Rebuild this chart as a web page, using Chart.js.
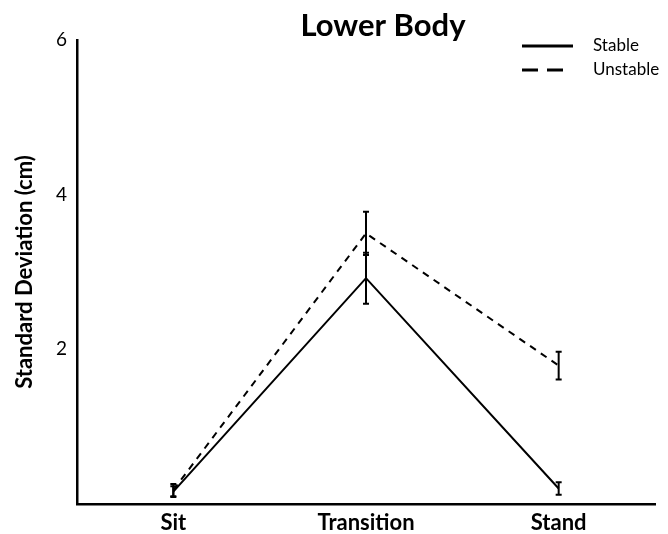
<!DOCTYPE html>
<html>
<head>
<meta charset="utf-8">
<script src="https://cdn.jsdelivr.net/npm/chart.js@4/dist/chart.umd.min.js"></script>
<style>
  html, body { margin: 0; padding: 0; background: #fff; }
  #wrap { width: 668px; height: 534px; }
</style>
</head>
<body>
<div id="wrap"><canvas id="lineChart"></canvas></div>
<script>
// data
const categories = ['Sit', 'Transition', 'Stand'];
const stableMean = [0.16, 2.92, 0.2];
const stableErr = [0.07, 0.33, 0.08];
const unstableMean = [0.18, 3.5, 1.79];
const unstableErr = [0.08, 0.28, 0.18];
const yTicks = [2, 4, 6];

const FONT = 'Lato, "Open Sans", sans-serif';

// error bars + legend drawn with the chart's scales
const extras = {
  id: 'extras',
  afterDatasetsDraw(chart) {
    const ctx = chart.ctx;
    const x = chart.scales.x, y = chart.scales.y;
    ctx.save();
    ctx.strokeStyle = '#000';
    ctx.lineWidth = 2;
    ctx.setLineDash([]);
    chart.data.datasets.forEach(ds => {
      ds.data.forEach((v, i) => {
        const px = x.getPixelForValue(i);
        const top = y.getPixelForValue(v + ds.err[i]);
        const bot = y.getPixelForValue(v - ds.err[i]);
        ctx.beginPath();
        ctx.moveTo(px, top); ctx.lineTo(px, bot);
        ctx.moveTo(px - 3, top); ctx.lineTo(px + 3, top);
        ctx.moveTo(px - 3, bot); ctx.lineTo(px + 3, bot);
        ctx.stroke();
      });
    });
    ctx.restore();
  },
  afterDraw(chart) {
    const ctx = chart.ctx;
    ctx.save();
    // title
    ctx.fillStyle = '#000';
    ctx.font = 'bold 31px ' + FONT;
    ctx.textAlign = 'center';
    ctx.textBaseline = 'middle';
    ctx.fillText('Lower Body', 383, 26);
    // legend
    ctx.font = '17px ' + FONT;
    ctx.textAlign = 'left';
    chart.data.datasets.forEach((ds, i) => {
      const ly = 46 + i * 24;
      ctx.strokeStyle = '#000';
      ctx.lineWidth = 3;
      ctx.setLineDash(i ? [16, 9] : []);
      ctx.beginPath();
      ctx.moveTo(522, ly); ctx.lineTo(i ? 563 : 573, ly);
      ctx.stroke();
      ctx.fillText(ds.label, 593, ly);
    });
    ctx.restore();
  }
};

new Chart(document.getElementById('lineChart'), {
  type: 'line',
  data: {
    labels: categories,
    datasets: [{
      label: 'Stable',
      data: stableMean,
      err: stableErr,
      borderColor: '#000',
      borderWidth: 2,
      pointRadius: 0,
      tension: 0
    }, {
      label: 'Unstable',
      data: unstableMean,
      err: unstableErr,
      borderColor: '#000',
      borderWidth: 2,
      borderDash: [7, 6],
      pointRadius: 0,
      tension: 0
    }]
  },
  options: {
    responsive: true,
    maintainAspectRatio: false,
    animation: false,
    layout: { padding: { top: 40, right: 13, left: 0, bottom: 0 } },
    plugins: {
      legend: { display: false },
      tooltip: { enabled: false }
    },
    scales: {
      x: {
        offset: true,
        grid: { display: false, drawTicks: false },
        border: { color: '#000', width: 2.5 },
        ticks: {
          color: '#000',
          padding: 6,
          font: { family: FONT, size: 22, weight: 'bold' }
        },
        afterFit(scale) { scale.height = 30; }
      },
      y: {
        min: 0,
        max: 6,
        afterBuildTicks(scale) {
          scale.ticks = yTicks.map(v => ({ value: v }));
        },
        grid: { display: false, drawTicks: false },
        border: { color: '#000', width: 2.5 },
        ticks: {
          color: '#000',
          padding: 10,
          font: { family: FONT, size: 19 }
        },
        title: {
          display: true,
          text: 'Standard Deviation (cm)',
          color: '#000',
          padding: { top: 12, bottom: 18 },
          font: { family: FONT, size: 22, weight: 'bold' }
        },
        afterFit(scale) { scale.width = 77; }
      }
    }
  },
  plugins: [extras]
});
</script>
</body>
</html>
